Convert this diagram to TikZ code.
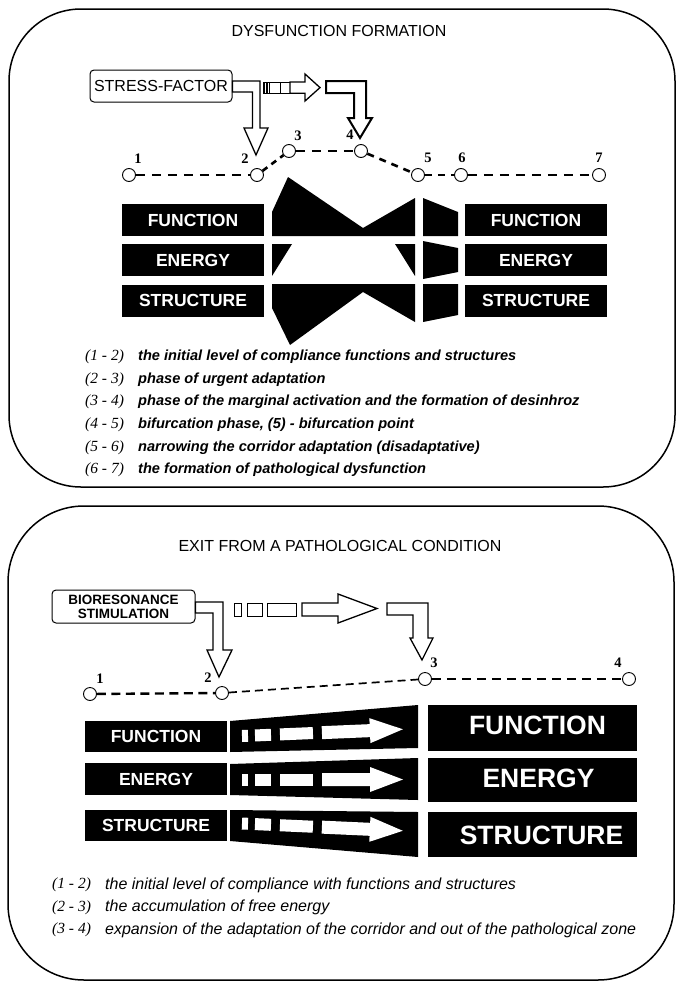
\documentclass[tikz,border=0pt]{standalone}
\usepackage{fontspec}
\setmainfont{Liberation Sans}
\newfontfamily\tnr{Liberation Serif}
\usetikzlibrary{calc}
\tikzset{
  panel/.style={draw=black, line width=1.5pt, rounded corners=72pt},
  bbox/.style={fill=black, text=white, inner sep=0pt, font=\bfseries\fontsize{17.5}{20}\selectfont},
  bigbox/.style={fill=black, text=white, inner sep=0pt, font=\bfseries\fontsize{26.5}{30}\selectfont},
  dot/.style={circle, draw=black, fill=white, line width=0.9pt, minimum size=13pt, inner sep=0pt},
  dashln/.style={line width=2.6pt, dash pattern=on 9.5pt off 6.5pt},
  thindash/.style={line width=1.7pt, dash pattern=on 8pt off 5pt},
  num/.style={font=\tnr\bfseries\fontsize{14.5}{15}\selectfont, inner sep=0pt},
  hollow/.style={draw=black, fill=white, line width=1.3pt, line join=miter},
  lab/.style={anchor=west, inner sep=0pt, font=\tnr\itshape\fontsize{15.5}{17}\selectfont},
  descA/.style={anchor=west, inner sep=0pt, font=\bfseries\itshape\fontsize{14.6}{17}\selectfont},
  descB/.style={anchor=west, inner sep=0pt, font=\itshape\fontsize{16}{18}\selectfont},
  ttl/.style={inner sep=0pt, font=\fontsize{16}{19}\selectfont},
  rbox/.style={draw=black, line width=1pt, rounded corners=4pt, inner sep=0pt, fill=white},
  blk/.style={fill=black, draw=none},
  wht/.style={fill=white, draw=none},
}
\begin{document}
\begin{tikzpicture}[x=1pt,y=-1pt]
\useasboundingbox (0,0) rectangle (678,983);
\fill[white] (0,0) rectangle (678,983);

%================ TOP PANEL ================
\draw[panel] (9,9) rectangle (675,487);
\node[ttl] (t1) at (339,31) {DYSFUNCTION FORMATION};

\node[rbox, minimum width=142pt, minimum height=32pt, font=\fontsize{16}{19}\selectfont] (sf) at (161,86) {STRESS-FACTOR};

% points
\node[dot] (p1) at (129,175) {};
\node[dot] (p2) at (257,175) {};
\node[dot] (p3) at (289,151) {};
\node[dot] (p4) at (361,151) {};
\node[dot] (p5) at (418,175) {};
\node[dot] (p6) at (461,175) {};
\node[dot] (p7) at (599,175) {};
\node[num] at (138,159) {1};
\node[num] at (245,159) {2};
\node[num] at (298,136) {3};
\node[num] at (350,135) {4};
\node[num] at (428,158) {5};
\node[num] at (462,158) {6};
\node[num] at (599,158) {7};
\draw[dashln] (p1) -- (p2);
\draw[dashln, dash pattern=on 6pt off 5pt] (p2) -- (p3);
\draw[dashln] (p3) -- (p4);
\draw[dashln, dash pattern=on 7pt off 6pt] (p4) -- (p5);
\draw[dashln, dash pattern=on 7pt off 6pt] (p5) -- (p6);
\draw[dashln] (p6) -- (p7);

% hollow arrow 1 (stress-factor -> 2)
\draw[hollow] (sf.east |- 0,81) -- (260,81) -- (260,128) -- (268,128) -- (256,155)
  -- (244,128) -- (252.5,128) -- (252.5,92) -- (sf.east |- 0,92) -- cycle;
% squares and straight arrow
\draw[draw=black, line width=0.9pt, fill=white] (263,82) rectangle (269,93.3);
\foreach \xx in {264.5,266,267.5} \draw[line width=0.6pt] (\xx,82) -- (\xx,93.3);
\draw[draw=black, line width=1pt, fill=white] (269,82) rectangle (280,93.3);
\draw[draw=black, line width=1pt, fill=white] (280,82) rectangle (290,93.3);
\draw[hollow] (290,82) -- (305,82) -- (305,74) -- (320,87.6) -- (305,101) -- (305,93.3) -- (290,93.3) -- cycle;
% bent arrow 2 (-> 4)
\draw[hollow, line width=2pt] (326,81) -- (366,81) -- (366,118) -- (372,118) -- (360,138)
  -- (348,118) -- (354,118) -- (354,93) -- (326,93) -- cycle;

% left / right boxes
\node[bbox, minimum width=142pt, minimum height=32pt] (lf) at (193,220) {FUNCTION};
\node[bbox, minimum width=142pt, minimum height=32pt] (le) at (193,260) {ENERGY};
\node[bbox, minimum width=142pt, minimum height=32pt] (ls) at (193,300.5) {STRUCTURE};
\node[bbox, minimum width=142pt, minimum height=32pt] (rf) at (536,220) {FUNCTION};
\node[bbox, minimum width=142pt, minimum height=32pt] (re) at (536,260) {ENERGY};
\node[bbox, minimum width=142pt, minimum height=32pt] (rs) at (536,300.5) {STRUCTURE};

% middle shapes
\fill[blk] (272,212) -- (288,177) -- (363,228) -- (415,198) -- (415,236) -- (272,236) -- cycle;
\fill[blk] (272,244) -- (292,244) -- (272,276) -- cycle;
\fill[blk] (395,244) -- (415,244) -- (415,276) -- cycle;
\fill[blk] (272,284) -- (415,284) -- (415,322) -- (363,292) -- (290,345) -- (272,308) -- cycle;
\fill[blk] (423,198) -- (458,212) -- (458,236) -- (423,236) -- cycle;
\fill[blk] (423,241) -- (458,248) -- (458,272) -- (423,279) -- cycle;
\fill[blk] (423,284) -- (458,284) -- (458,315) -- (423,322) -- cycle;

% legend
\foreach \l/\t [count=\i from 0] in {
  (1 - 2)/the initial level of compliance functions and structures,
  (2 - 3)/phase of urgent adaptation,
  (3 - 4)/phase of the marginal activation and the formation of desinhroz,
  (4 - 5)/{bifurcation phase, (5) - bifurcation point},
  (5 - 6)/narrowing the corridor adaptation (disadaptative),
  (6 - 7)/the formation of pathological dysfunction}{
  \pgfmathsetmacro{\yy}{357+22.6*\i}
  \node[lab] at (85,\yy) {\l};
  \node[descA] at (138,\yy) {\t};
}

%================ BOTTOM PANEL ================
\draw[panel, rounded corners=76pt] (8,506) rectangle (674,980);
\node[ttl] (t2) at (340,546) {EXIT FROM A PATHOLOGICAL CONDITION};

\node[rbox, minimum width=143pt, minimum height=33pt, align=center,
  font=\bfseries\fontsize{13.5}{14}\selectfont] (bs) at (123.5,606.5) {BIORESONANCE\\STIMULATION};

\node[dot] (q1) at (90,694) {};
\node[dot] (q2) at (222,693) {};
\node[dot] (q3) at (425,679) {};
\node[dot] (q4) at (629,679) {};
\node[num] at (100,679) {1};
\node[num] at (208,678) {2};
\node[num] at (434,663) {3};
\node[num] at (618,663) {4};
\draw[dashln, line width=2.4pt, dash pattern=on 9pt off 5.5pt] (q1) -- (q2);
\draw[thindash] (q2) -- (q3);
\draw[dashln, line width=2.3pt, dash pattern=on 9.5pt off 5.5pt] (q3) -- (q4);

% hollow arrow from box to 2
\draw[hollow] (bs.east |- 0,602) -- (223,602) -- (223,650) -- (232,650) -- (219,677)
  -- (207,650) -- (213,650) -- (213,613) -- (bs.east |- 0,613) -- cycle;
\draw[draw=black, line width=1pt, fill=white] (234,603) rectangle (241,616);
\draw[draw=black, line width=1pt, fill=white] (247,603) rectangle (262,616);
\draw[draw=black, line width=1pt, fill=white] (267,603) rectangle (296,616);
\draw[hollow] (302,603) -- (338,603) -- (338,594) -- (377,608.5) -- (338,623) -- (338,616) -- (302,616) -- cycle;
\draw[hollow] (387,603) -- (428,603) -- (428,638) -- (433,638) -- (422,660)
  -- (410,638) -- (413,638) -- (413,615) -- (387,615) -- cycle;

% left boxes
\node[bbox, minimum width=142pt, minimum height=31pt] (bl1) at (156,736.5) {FUNCTION};
\node[bbox, minimum width=142pt, minimum height=32pt] (bl2) at (156,779) {ENERGY};
\node[bbox, minimum width=142pt, minimum height=31pt] (bl3) at (156,825.5) {STRUCTURE};
% right boxes
\node[blk, minimum width=209pt, minimum height=46pt, inner sep=0pt] (br1) at (532.5,728) {};
\node[blk, minimum width=209pt, minimum height=44pt, inner sep=0pt] (br2) at (532.5,780) {};
\node[blk, minimum width=209pt, minimum height=45pt, inner sep=0pt] (br3) at (532.5,834.5) {};
\node[bigbox] at (537.5,725) {FUNCTION};
\node[bigbox] at (538.5,778) {ENERGY};
\node[bigbox] at (541.5,835) {STRUCTURE};

% trapezoids
\fill[blk] (230,721) -- (418,705) -- (418,748) -- (230,752) -- cycle;
\fill[blk] (230,764) -- (418,758) -- (418,800) -- (230,795) -- cycle;
\fill[blk] (230,810) -- (418,812) -- (418,857) -- (230,841) -- cycle;
% white arrows inside
\foreach \yc/\ang in {736/2.4, 779.5/0, 823.5/-2.6}{
  \begin{scope}[shift={(242,\yc)}, rotate=\ang]
    \fill[wht] (0,-6) rectangle (6,6);
    \fill[wht] (13,-6) rectangle (29,6);
    \fill[wht] (38,-6) rectangle (71,6);
    \fill[wht] (80,-6.5) -- (128,-6.5) -- (128,-12.5) -- (161,0) -- (128,12.5) -- (128,6.5) -- (80,6.5) -- cycle;
  \end{scope}
}

\foreach \l/\t [count=\i from 0] in {
  (1 - 2)/the initial level of compliance with functions and structures,
  (2 - 3)/the accumulation of free energy,
  (3 - 4)/expansion of the adaptation of the corridor and out of the pathological zone}{
  \pgfmathsetmacro{\yy}{885+22.5*\i}
  \node[lab] at (52,\yy) {\l};
  \node[descB] at (105,\yy) {\t};
}
\end{tikzpicture}
\end{document}
